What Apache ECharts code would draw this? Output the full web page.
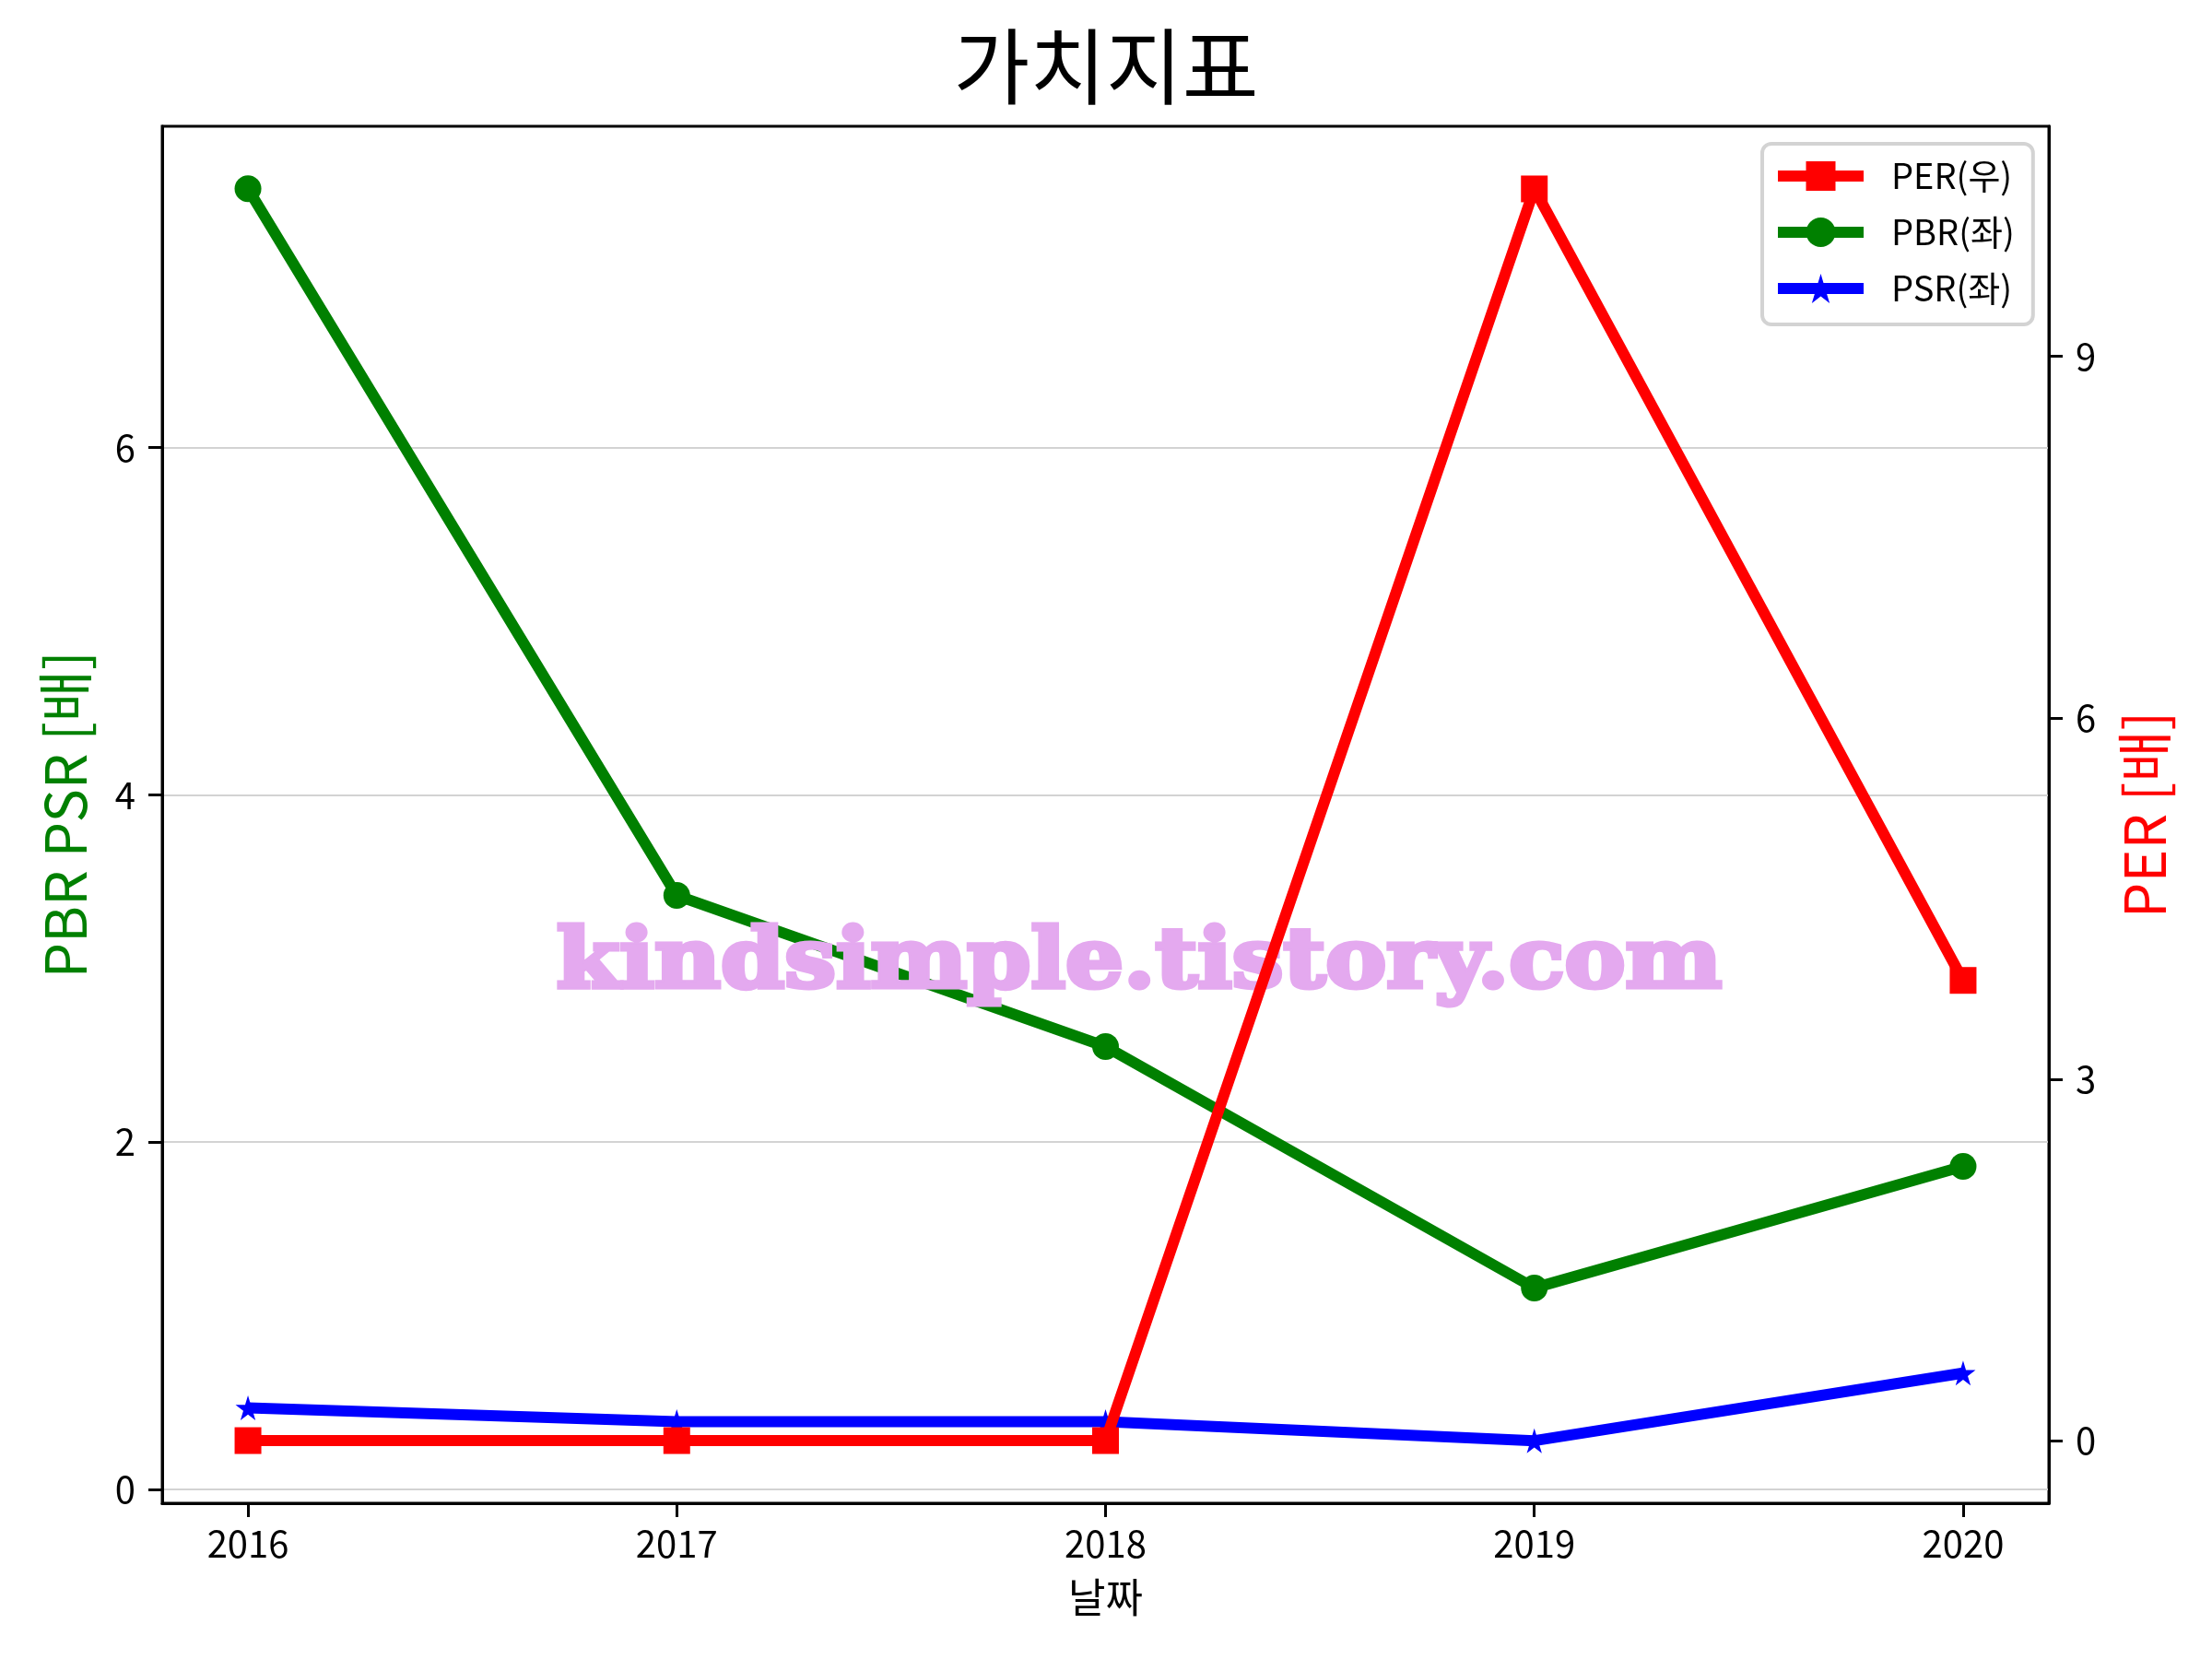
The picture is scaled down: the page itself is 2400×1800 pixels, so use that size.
<!DOCTYPE html>
<html>
<head>
<meta charset="utf-8">
<script src="https://cdn.jsdelivr.net/npm/echarts@6/dist/echarts.min.js"></script>
<style>html,body{margin:0;padding:0;background:#fff}#c{width:2400px;height:1800px}</style>
</head>
<body>
<div id="c"></div>
<script>
const years = [2016, 2017, 2018, 2019, 2020];
const perValues = [0, 0, 0, 10.39, 3.82];
const pbrValues = [7.49, 3.42, 2.55, 1.16, 1.86];
const psrValues = [0.47, 0.39, 0.39, 0.28, 0.67];
const leftTicks = [0, 2, 4, 6];
const rightTicks = [0, 3, 6, 9];
const titleText = '가치지표';
const xName = '날짜';
const leftName = 'PBR PSR [배]';
const rightName = 'PER [배]';
const watermark = 'kindsimple.tistory.com';

const FONT = '"Noto Sans CJK KR", "Noto Sans", sans-serif';
const STAR = 'path://M50,0 L61,35 L98,35 L68,57 L79,91 L50,70 L21,91 L32,57 L2,35 L39,35 Z';
const pairs = vals => years.map((y, i) => [y, vals[i]]);

const chart = echarts.init(document.getElementById('c'), null, {renderer: 'canvas'});
chart.setOption({
  backgroundColor: '#ffffff',
  animation: false,
  title: {
    text: titleText, left: 'center', top: 22,
    textStyle: {fontFamily: FONT, fontSize: 90, fontWeight: 'normal', color: '#000'}
  },
  grid: {left: 176, right: 177, top: 137, bottom: 169, show: true, borderColor: '#000', borderWidth: 3, backgroundColor: 'transparent'},
  legend: {
    orient: 'vertical', left: 1912, top: 156,
    backgroundColor: '#fff', borderColor: '#d3d3d3', borderWidth: 4, borderRadius: 10,
    padding: [16, 20, 20, 11],
    itemWidth: 93, itemHeight: 40, itemGap: 23,
    lineStyle: {width: 12},
    textStyle: {fontFamily: FONT, fontSize: 38, color: '#000', padding: [0, 0, 0, 25]},
    data: ['PER(우)', 'PBR(좌)', 'PSR(좌)']
  },
  xAxis: {
    type: 'value', min: 2015.8, max: 2020.2,
    name: xName, nameLocation: 'middle', nameGap: 80,
    nameTextStyle: {fontFamily: FONT, fontSize: 44, color: '#000'},
    axisLine: {show: true, onZero: false, lineStyle: {color: '#000', width: 3}},
    axisTick: {show: true, length: 15, lineStyle: {color: '#000', width: 3}, customValues: years},
    axisLabel: {fontFamily: FONT, fontSize: 40, color: '#000', margin: 24, customValues: years, formatter: v => String(v)},
    splitLine: {show: false}
  },
  yAxis: [
    {
      type: 'value', position: 'left', min: -0.08, max: 7.85,
      name: leftName, nameLocation: 'middle', nameGap: 75, nameRotate: 90,
      nameTextStyle: {fontFamily: FONT, fontSize: 61, color: '#008000'},
      axisLine: {show: true, onZero: false, lineStyle: {color: '#000', width: 3}},
      axisTick: {show: true, length: 15, lineStyle: {color: '#000', width: 3}, customValues: leftTicks},
      axisLabel: {fontFamily: FONT, fontSize: 40, color: '#000', margin: 29, customValues: leftTicks},
      splitLine: {show: true, lineStyle: {color: '#d3d3d3', width: 2}}
    },
    {
      type: 'value', position: 'right', min: -0.52, max: 10.91,
      name: rightName, nameLocation: 'middle', nameGap: 73, nameRotate: 90,
      nameTextStyle: {fontFamily: FONT, fontSize: 61, color: '#ff0000'},
      axisLine: {show: true, onZero: false, lineStyle: {color: '#000', width: 3}},
      axisTick: {show: true, length: 15, lineStyle: {color: '#000', width: 3}, customValues: rightTicks},
      axisLabel: {fontFamily: FONT, fontSize: 40, color: '#000', margin: 29, customValues: rightTicks},
      splitLine: {show: false}
    }
  ],
  graphic: [{
    type: 'text', z: 3, left: 601, top: 1000, scaleX: 1.1,
    style: {text: watermark, fill: '#e4a9ef', stroke: '#e4a9ef', lineWidth: 5, font: 'bold 90px "DejaVu Serif", serif'}
  }],
  series: [
    {
      name: 'PER(우)', type: 'line', yAxisIndex: 1, z: 5, data: pairs(perValues),
      symbol: 'rect', symbolSize: 29, showAllSymbol: true,
      lineStyle: {color: '#ff0000', width: 12}, itemStyle: {color: '#ff0000'}
    },
    {
      name: 'PBR(좌)', type: 'line', yAxisIndex: 0, z: 2, data: pairs(pbrValues),
      symbol: 'circle', symbolSize: 29, showAllSymbol: true,
      lineStyle: {color: '#008000', width: 12}, itemStyle: {color: '#008000'}
    },
    {
      name: 'PSR(좌)', type: 'line', yAxisIndex: 0, z: 2, data: pairs(psrValues),
      symbol: STAR, symbolSize: 27, showAllSymbol: true,
      lineStyle: {color: '#0000ff', width: 12}, itemStyle: {color: '#0000ff'}
    }
  ]
});
</script>
</body>
</html>
